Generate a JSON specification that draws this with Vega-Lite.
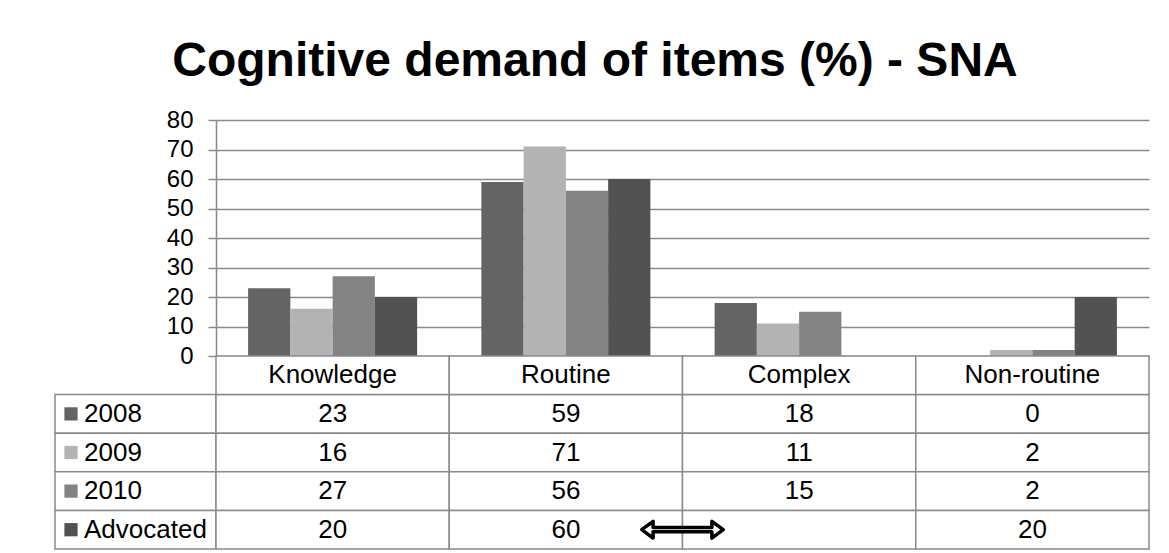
{
  "$schema": "https://vega.github.io/schema/vega-lite/v6.json",
  "background": "white",
  "padding": {"left": 54, "top": 38, "right": 5, "bottom": 0},
  "autosize": {"type": "pad"},
  "title": {
    "text": "Cognitive demand of items (%) - SNA",
    "font": "Liberation Sans",
    "fontSize": 48,
    "fontWeight": "bold",
    "color": "black",
    "anchor": "middle",
    "offset": 22,
    "dx": -7
  },
  "config": {
    "view": {"stroke": null},
    "font": "Liberation Sans",
    "text": {"font": "Liberation Sans", "fontSize": 26, "color": "black"}
  },
  "datasets": {
    "values": [
      {"category": "Knowledge", "series": "2008", "value": 23},
      {"category": "Knowledge", "series": "2009", "value": 16},
      {"category": "Knowledge", "series": "2010", "value": 27},
      {"category": "Knowledge", "series": "Advocated", "value": 20},
      {"category": "Routine", "series": "2008", "value": 59},
      {"category": "Routine", "series": "2009", "value": 71},
      {"category": "Routine", "series": "2010", "value": 56},
      {"category": "Routine", "series": "Advocated", "value": 60},
      {"category": "Complex", "series": "2008", "value": 18},
      {"category": "Complex", "series": "2009", "value": 11},
      {"category": "Complex", "series": "2010", "value": 15},
      {"category": "Complex", "series": "Advocated", "value": null},
      {"category": "Non-routine", "series": "2008", "value": 0},
      {"category": "Non-routine", "series": "2009", "value": 2},
      {"category": "Non-routine", "series": "2010", "value": 2},
      {"category": "Non-routine", "series": "Advocated", "value": 20}
    ],
    "header": [
      {"category": "Knowledge", "series": "header"},
      {"category": "Routine", "series": "header"},
      {"category": "Complex", "series": "header"},
      {"category": "Non-routine", "series": "header"}
    ],
    "series": [
      {"series": "2008"},
      {"series": "2009"},
      {"series": "2010"},
      {"series": "Advocated"}
    ],
    "arrow": [
      {"category": "Complex", "series": "Advocated"}
    ]
  },
  "spacing": 0,
  "bounds": "flush",
  "columns": 2,
  "concat": [
    {
      "width": 161,
      "height": 236,
      "data": {"values": [{}]},
      "mark": {"type": "rect", "opacity": 0},
      "encoding": {}
    },
    {
      "width": 933,
      "height": 236,
      "data": {"name": "values"},
      "transform": [{"filter": "isValid(datum.value)"}],
      "mark": {"type": "bar"},
      "encoding": {
        "x": {
          "field": "category",
          "type": "nominal",
          "sort": null,
          "scale": {"domain": ["Knowledge", "Routine", "Complex", "Non-routine"], "paddingInner": 0, "paddingOuter": 0},
          "axis": null
        },
        "xOffset": {
          "field": "series",
          "type": "nominal",
          "scale": {"domain": ["2008", "2009", "2010", "Advocated"], "paddingInner": 0, "paddingOuter": 0.76}
        },
        "y": {
          "field": "value",
          "type": "quantitative",
          "scale": {"domain": [0, 80], "nice": false},
          "axis": {
            "values": [0, 10, 20, 30, 40, 50, 60, 70, 80],
            "title": null,
            "grid": true,
            "gridColor": "#8a8a8a",
            "gridWidth": 1.5,
            "domainColor": "#8a8a8a",
            "domainWidth": 1.5,
            "tickColor": "#8a8a8a",
            "tickWidth": 1.5,
            "tickSize": 8,
            "labelFont": "Liberation Sans",
            "labelFontSize": 24,
            "labelColor": "black",
            "labelPadding": 15
          }
        },
        "color": {
          "field": "series",
          "type": "nominal",
          "scale": {"domain": ["2008", "2009", "2010", "Advocated"], "range": ["#646464", "#b3b3b3", "#838383", "#525252"]},
          "legend": null
        }
      }
    },
    {
      "width": 161,
      "height": 193,
      "data": {"name": "series"},
      "encoding": {
        "y": {
          "field": "series",
          "type": "nominal",
          "scale": {"domain": ["header", "2008", "2009", "2010", "Advocated"], "paddingInner": 0, "paddingOuter": 0},
          "axis": null
        }
      },
      "layer": [
        {"mark": {"type": "rect", "fill": "white", "stroke": "#8a8a8a", "strokeWidth": 1.5}},
        {
          "mark": {"type": "square", "x": 16, "size": 175, "filled": true, "opacity": 1},
          "encoding": {
            "color": {
              "field": "series",
              "type": "nominal",
              "scale": {"domain": ["2008", "2009", "2010", "Advocated"], "range": ["#646464", "#b3b3b3", "#838383", "#525252"]},
              "legend": null
            }
          }
        },
        {
          "mark": {"type": "text", "align": "left", "x": 29},
          "encoding": {"text": {"field": "series", "type": "nominal"}}
        }
      ]
    },
    {
      "width": 933,
      "height": 193,
      "encoding": {
        "x": {
          "field": "category",
          "type": "nominal",
          "sort": null,
          "scale": {"domain": ["Knowledge", "Routine", "Complex", "Non-routine"], "paddingInner": 0, "paddingOuter": 0},
          "axis": null
        },
        "y": {
          "field": "series",
          "type": "nominal",
          "scale": {"domain": ["header", "2008", "2009", "2010", "Advocated"], "paddingInner": 0, "paddingOuter": 0},
          "axis": null
        }
      },
      "layer": [
        {
          "data": {"name": "values"},
          "mark": {"type": "rect", "fill": "white", "stroke": "#8a8a8a", "strokeWidth": 1.5}
        },
        {
          "data": {"name": "header"},
          "mark": {"type": "rect", "fill": "white", "stroke": "#8a8a8a", "strokeWidth": 1.5}
        },
        {
          "data": {"name": "values"},
          "transform": [{"filter": "isValid(datum.value)"}],
          "mark": {"type": "text"},
          "encoding": {"text": {"field": "value", "type": "quantitative", "format": ".0f"}}
        },
        {
          "data": {"name": "header"},
          "mark": {"type": "text"},
          "encoding": {"text": {"field": "category", "type": "nominal"}}
        },
        {
          "data": {"name": "arrow"},
          "mark": {
            "type": "point",
            "shape": "M-0.97,0L-0.7,-0.2L-0.7,-0.05L0.7,-0.05L0.7,-0.2L0.97,0L0.7,0.2L0.7,0.05L-0.7,0.05L-0.7,0.2Z",
            "size": 7056,
            "filled": true,
            "fill": "white",
            "stroke": "black",
            "strokeWidth": 3.5,
            "strokeJoin": "round",
            "opacity": 1
          },
          "encoding": {
            "x": {"field": "category", "type": "nominal", "bandPosition": 0}
          }
        }
      ]
    }
  ]
}
